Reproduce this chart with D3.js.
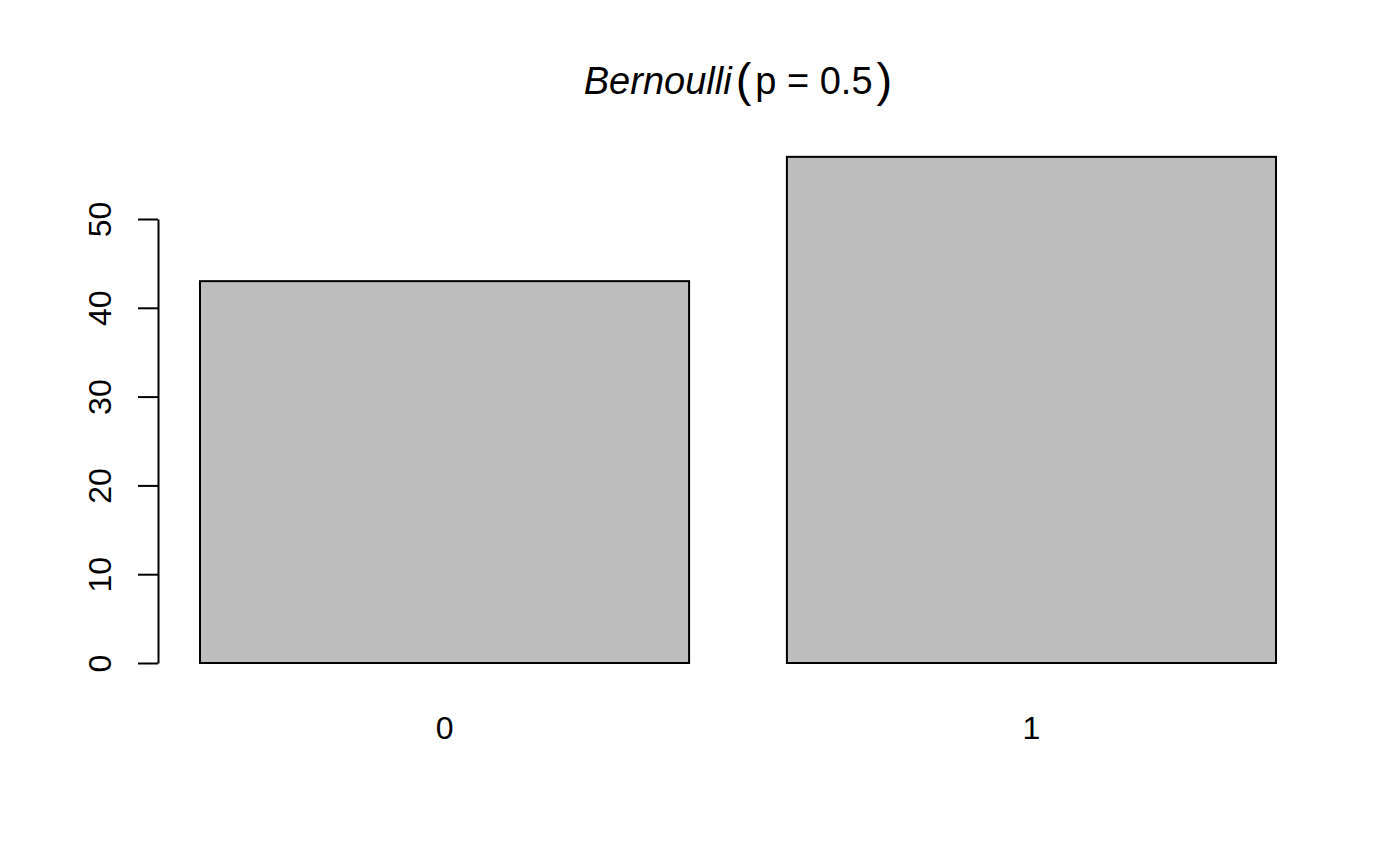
<!DOCTYPE html>
<html>
<head>
<meta charset="utf-8">
<script src="https://cdn.jsdelivr.net/npm/d3@7"></script>
<style>
  body { margin: 0; background: #fff; }
  text { font-family: "Liberation Sans", Arial, sans-serif; fill: #000; }
</style>
</head>
<body>
<svg id="chart" width="1400" height="865"></svg>
<script>
const categories = ["0", "1"];
const counts = [43, 57];
const yTicks = [0, 10, 20, 30, 40, 50];

const svg = d3.select("#chart");

// bar positions (R barplot: width 1, space 0.2)
const x = d3.scaleBand()
  .domain(categories)
  .range([200, 1276])
  .paddingInner(1 / 6)
  .paddingOuter(0);

const y = d3.scaleLinear()
  .domain([0, 50])
  .range([663, 219]);

// bars
svg.append("g")
  .selectAll("rect")
  .data(categories)
  .join("rect")
  .attr("x", (d) => x(d))
  .attr("y", (d, i) => y(counts[i]))
  .attr("width", x.bandwidth())
  .attr("height", (d, i) => y(0) - y(counts[i]))
  .attr("fill", "#bebebe")
  .attr("stroke", "#000")
  .attr("stroke-width", 2);

// y axis
const yAxis = svg.append("g")
  .attr("transform", "translate(158,0)")
  .call(d3.axisLeft(y).tickValues(yTicks).tickSize(20).tickSizeOuter(0).tickPadding(0));
yAxis.select(".domain").attr("stroke-width", 2);
yAxis.selectAll(".tick line").attr("stroke-width", 2);
yAxis.selectAll(".tick text")
  .attr("font-size", 32)
  .attr("text-anchor", "middle")
  .attr("x", null)
  .attr("dy", null)
  .attr("transform", "translate(-47,0) rotate(-90)");

// category labels
svg.append("g")
  .selectAll("text")
  .data(categories)
  .join("text")
  .attr("x", (d) => x(d) + x.bandwidth() / 2)
  .attr("y", 739)
  .attr("text-anchor", "middle")
  .attr("font-size", 32)
  .text((d) => d);

// title
const title = svg.append("text")
  .attr("x", 738)
  .attr("y", 94)
  .attr("text-anchor", "middle")
  .attr("font-size", 38);
title.append("tspan").attr("font-style", "italic").text("Bernoulli");
title.append("tspan").attr("font-size", 47).attr("dx", 4).attr("dy", 2).text("(");
title.append("tspan").attr("dx", 4).attr("dy", -2).text("p = 0.5");
title.append("tspan").attr("font-size", 47).attr("dx", 4).attr("dy", 2).text(")");
</script>
</body>
</html>
